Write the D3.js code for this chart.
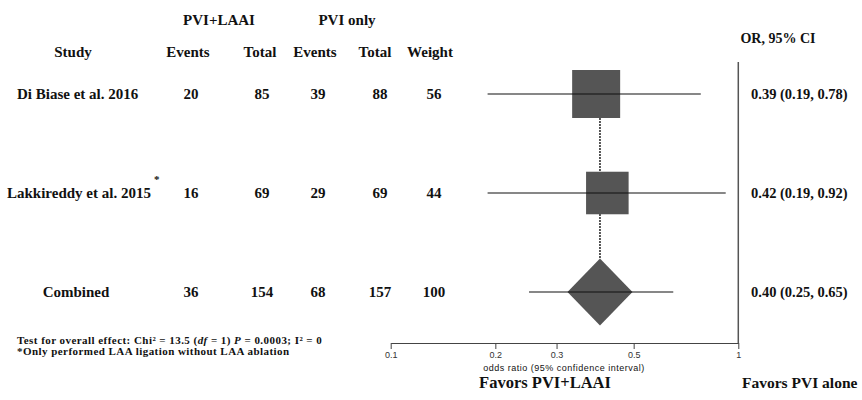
<!doctype html>
<html>
<head>
<meta charset="utf-8"/>
<title>Forest plot</title>
<script src="https://d3js.org/d3.v7.min.js"></script>
<style>
  body { margin: 0; background: #fff; }
  text { font-family: "Liberation Serif", "Times New Roman", serif; font-weight: bold; fill: #111; }
  .axis text { font-family: "Liberation Sans", Arial, sans-serif; font-weight: normal; font-size: 9px; fill: #333; }
  .axis path, .axis line { stroke: #444; }
</style>
</head>
<body>
<div id="chart"></div>
<script>
// data
var studies = ["Di Biase et al. 2016", "Lakkireddy et al. 2015", "Combined"];
var eventsLAAI = [20, 16, 36];
var totalLAAI = [85, 69, 154];
var eventsPVI = [39, 29, 68];
var totalPVI = [88, 69, 157];
var weights = [56, 44, 100];
var orValues = [0.39, 0.42, 0.40];
var ciLow = [0.19, 0.19, 0.25];
var ciHigh = [0.78, 0.92, 0.65];
var tickValues = [0.1, 0.2, 0.3, 0.5, 1];

var svg = d3.select("#chart")
    .append("svg")
    .attr("width", 862)
    .attr("height", 400);

var fs = 15;
var x = d3.scaleLog().domain([0.1, 1]).range([390.7, 738.3]);
var y = d3.scalePoint().domain(studies).range([94, 292]);
var boxSize = d3.scaleSqrt().domain([0, 56]).range([0, 48]);

// header
svg.append("text").attr("x", 219).attr("y", 25).attr("text-anchor", "middle").attr("font-size", fs).text("PVI+LAAI");
svg.append("text").attr("x", 347).attr("y", 25).attr("text-anchor", "middle").attr("font-size", fs).text("PVI only");

var headers = [["Study", 73], ["Events", 188], ["Total", 260], ["Events", 315], ["Total", 375], ["Weight", 430]];
headers.forEach(function(h) {
  svg.append("text").attr("x", h[1]).attr("y", 57).attr("text-anchor", "middle")
    .attr("font-size", fs).text(h[0]);
});
svg.append("text").attr("x", 778).attr("y", 43).attr("text-anchor", "middle")
  .attr("font-size", 14).text("OR, 95% CI");

// table columns
var cols = [[eventsLAAI, 191], [totalLAAI, 262], [eventsPVI, 318], [totalPVI, 380], [weights, 434]];
studies.forEach(function(s, i) {
  var ty = y(s) + 5;
  var lab = svg.append("text").attr("y", ty).attr("font-size", fs);
  if (i == 2) {
    lab.attr("x", 76).attr("text-anchor", "middle").text(s);
  } else {
    lab.attr("x", i == 0 ? 17 : 7).text(s);
  }
  cols.forEach(function(c) {
    svg.append("text").attr("x", c[1]).attr("y", ty).attr("text-anchor", "middle")
      .attr("font-size", fs).text(c[0][i]);
  });
  svg.append("text").attr("x", 751).attr("y", ty).attr("font-size", 14.5)
    .text(orValues[i].toFixed(2) + " (" + ciLow[i].toFixed(2) + ", " + ciHigh[i].toFixed(2) + ")");
});
svg.append("text").attr("x", 154).attr("y", 183).attr("font-size", 11).text("*");

// vertical line of no effect
svg.append("line").attr("x1", x(1)).attr("x2", x(1)).attr("y1", 62).attr("y2", 343)
  .attr("stroke", "#555").attr("stroke-width", 1.5);

// dashed line at combined estimate
svg.append("line").attr("x1", x(orValues[2])).attr("x2", x(orValues[2]))
  .attr("y1", y(studies[0])).attr("y2", y(studies[2]) - 33)
  .attr("stroke", "#222").attr("stroke-width", 1.5).attr("stroke-dasharray", "2,1");

// studies
for (var i = 0; i < 2; i++) {
  var cy = y(studies[i]);
  var sz = boxSize(weights[i]);
  svg.append("rect").attr("x", x(orValues[i]) - sz / 2).attr("y", cy - sz / 2)
    .attr("width", sz).attr("height", sz).attr("fill", "#555");
  svg.append("line").attr("x1", x(ciLow[i])).attr("x2", x(ciHigh[i]))
    .attr("y1", cy).attr("y2", cy).attr("stroke", "#111").attr("stroke-width", 1.2);
}

// combined diamond
var dy = y(studies[2]);
var dx = x(orValues[2]);
svg.append("path")
  .attr("d", "M" + (dx - 32.5) + "," + dy + "L" + dx + "," + (dy - 33.5) + "L" + (dx + 32.5) + "," + dy + "L" + dx + "," + (dy + 33.5) + "Z")
  .attr("fill", "#555");
svg.append("line").attr("x1", x(ciLow[2])).attr("x2", x(ciHigh[2]))
  .attr("y1", dy).attr("y2", dy).attr("stroke", "#111").attr("stroke-width", 1.2);

// axis
svg.append("g").attr("class", "axis").attr("transform", "translate(0,343)")
  .call(d3.axisBottom(x).tickValues(tickValues).tickFormat(d3.format("")).tickSize(6).tickSizeOuter(0));
svg.append("text").attr("x", 564).attr("y", 371).attr("text-anchor", "middle")
  .style("font-family", "Liberation Sans, Arial, sans-serif").style("font-weight", "normal")
  .style("letter-spacing", "0.5px")
  .attr("font-size", 9).attr("fill", "#444").text("odds ratio (95% confidence interval)");

svg.append("text").attr("x", 545).attr("y", 388).attr("text-anchor", "middle").attr("font-size", 16.5).text("Favors PVI+LAAI");
svg.append("text").attr("x", 742).attr("y", 388).attr("font-size", 15.5).text("Favors PVI alone");

// footnotes
var f1 = svg.append("text").attr("x", 17).attr("y", 344).attr("font-size", 11).style("letter-spacing", "0.45px");
f1.append("tspan").text("Test for overall effect: Chi\u00B2 = 13.5  (");
f1.append("tspan").attr("font-style", "italic").text("df");
f1.append("tspan").text(" = 1) ");
f1.append("tspan").attr("font-style", "italic").text("P");
f1.append("tspan").text("  =  0.0003; I\u00B2 = 0");
svg.append("text").attr("x", 17).attr("y", 355).attr("font-size", 11).style("letter-spacing", "0.45px")
  .text("*Only performed LAA ligation without LAA ablation");
</script>
</body>
</html>
